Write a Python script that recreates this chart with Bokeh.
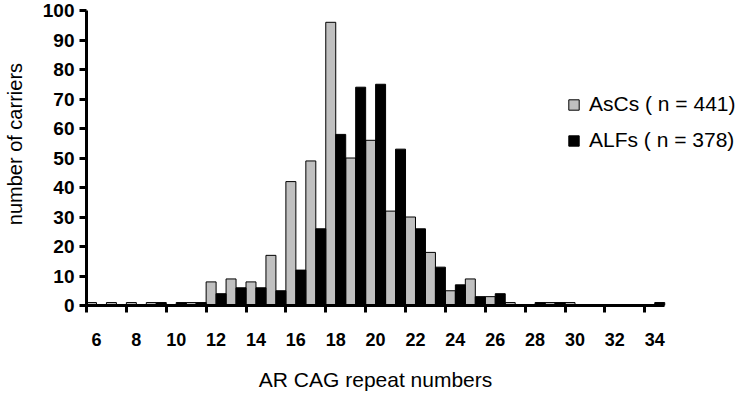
from bokeh.plotting import figure
from bokeh.models import ColumnDataSource, Range1d, FixedTicker, Legend
from bokeh.transform import dodge
from bokeh.embed import file_html
from bokeh.resources import INLINE

# AR CAG repeat numbers (categories)
cats = list(range(6, 35))
# AsCs ( n = 441)
ascs = [1, 1, 1, 1, 0, 1,
        8, 9, 8, 17, 42, 49, 96, 50, 56, 32, 30, 18, 5, 9, 3,
        1, 0, 1, 1, 0, 0, 0, 0]
# ALFs ( n = 378)
alfs = [0, 0, 0, 1, 1, 1,
        4, 6, 6, 5, 12, 26, 58, 74, 75, 53, 26, 13, 7, 3, 4,
        0, 1, 1, 0, 0, 0, 0, 1]
label_cats = list(range(6, 35, 2))
y_ticks = list(range(0, 101, 10))
x_title = "AR CAG repeat numbers"
y_title = "number of carriers"

src = ColumnDataSource(dict(x=cats, ascs=ascs, alfs=alfs))

x_lo = cats[0] - 0.5
x_hi = cats[-1] + 0.5

NB = "\u00a0"

p = figure(width=740, height=393,
           x_range=Range1d(x_lo, x_hi + 3.8),
           y_range=Range1d(0, 100),
           output_backend="svg", toolbar_location=None,
           min_border_left=84, min_border_right=0,
           min_border_top=10, min_border_bottom=88)

r1 = p.vbar(x=dodge('x', -0.25, range=p.x_range), top='ascs', width=0.5,
            source=src, fill_color='#c0c0c0', line_color='black', line_width=1)
r2 = p.vbar(x=dodge('x', 0.25, range=p.x_range), top='alfs', width=0.5,
            source=src, fill_color='black', line_color='black', line_width=1)

FONT = "Liberation Sans"

p.grid.visible = False
p.outline_line_color = None
p.background_fill_color = "white"
p.border_fill_color = "white"

xa = p.xaxis[0]
xa.bounds = (x_lo, x_hi)
xa.ticker = FixedTicker(ticks=label_cats, minor_ticks=[c - 0.5 for c in label_cats])
xa.axis_line_width = 3
xa.axis_line_color = "black"
xa.major_tick_line_color = None
xa.major_tick_out = 7
xa.major_tick_in = 0
xa.minor_tick_line_color = "black"
xa.minor_tick_line_width = 3
xa.minor_tick_out = 7
xa.minor_tick_in = 0
xa.major_label_text_font = FONT
xa.major_label_text_font_style = "bold"
xa.major_label_text_font_size = "18px"
xa.major_label_text_color = "black"
xa.major_label_standoff = 20
# trailing no-break spaces centre the visible title under the drawn axis
xa.axis_label = x_title + NB * 13
xa.axis_label_text_font = FONT
xa.axis_label_text_font_style = "normal"
xa.axis_label_text_font_size = "21px"
xa.axis_label_text_color = "black"
xa.axis_label_standoff = 19

ya = p.yaxis[0]
ya.ticker = FixedTicker(ticks=y_ticks)
ya.axis_line_width = 3
ya.axis_line_color = "black"
ya.major_tick_line_color = "black"
ya.major_tick_line_width = 3
ya.major_tick_out = 7
ya.major_tick_in = 0
ya.minor_tick_line_color = None
ya.major_label_text_font = FONT
ya.major_label_text_font_style = "bold"
ya.major_label_text_font_size = "19px"
ya.major_label_text_color = "black"
ya.major_label_standoff = 5
ya.axis_label = NB * 5 + y_title
ya.axis_label_text_font = FONT
ya.axis_label_text_font_style = "normal"
ya.axis_label_text_font_size = "20px"
ya.axis_label_text_color = "black"
ya.axis_label_standoff = 14

legend = Legend(items=[("AsCs ( n = 441)", [r1]), ("ALFs ( n = 378)", [r2])],
                location=(481, 151), border_line_color=None,
                background_fill_alpha=0, padding=0, margin=0,
                glyph_width=13, glyph_height=13, label_standoff=9,
                spacing=8, label_height=28,
                label_text_font=FONT, label_text_font_size="21px",
                label_text_color="black")
p.add_layout(legend)

open("out.html", "w").write(file_html(p, INLINE))
